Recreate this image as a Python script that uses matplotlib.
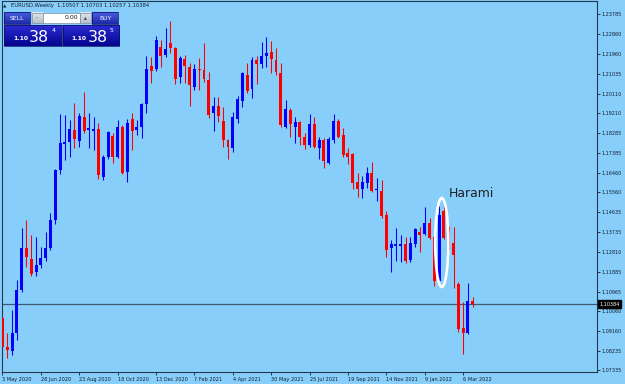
import numpy as np
import matplotlib
matplotlib.use("Agg")
import matplotlib.pyplot as plt
from matplotlib.patches import Ellipse, Rectangle

# ---- data (EURUSD weekly) ----
opens = [1.0975, 1.0838, 1.0820, 1.0905, 1.1103, 1.1297, 1.1245, 1.1187, 1.1219, 1.1251,
         1.1297, 1.1427, 1.1658, 1.1778, 1.1787, 1.1843, 1.1792, 1.1902, 1.1842, 1.1838,
         1.1847, 1.1625, 1.1718, 1.1815, 1.1718, 1.1856, 1.1649, 1.1893, 1.1843, 1.1856,
         1.1963, 1.2138, 1.2125, 1.2226, 1.2189, 1.2245, 1.2221, 1.2087, 1.2171, 1.2134,
         1.2041, 1.2124, 1.2120, 1.2074, 1.1921, 1.1953, 1.1884, 1.1796, 1.1759, 1.1893,
         1.1977, 1.2097, 1.2032, 1.2166, 1.2148, 1.2185, 1.2203, 1.2166, 1.2106, 1.1856,
         1.1935, 1.1856, 1.1880, 1.1810, 1.1773, 1.1870, 1.1759, 1.1796, 1.1690, 1.1796,
         1.1884, 1.1820, 1.1736, 1.1732, 1.1602, 1.1570, 1.1598, 1.1644, 1.1565, 1.1561,
         1.1450, 1.1297, 1.1307, 1.1307, 1.1316, 1.1242, 1.1316, 1.1371, 1.1362, 1.1413,
         1.1348, 1.1145, 1.1468, 1.1339, 1.1320, 1.1131, 1.0928, 1.0905, 1.10507]
highs = [1.0985, 1.0905, 1.1011, 1.1150, 1.1390, 1.1427, 1.1357, 1.1348, 1.1302, 1.1371,
         1.1459, 1.1663, 1.1917, 1.1912, 1.1889, 1.1967, 1.1921, 1.2018, 1.1921, 1.1902,
         1.1875, 1.1727, 1.1838, 1.1829, 1.1889, 1.1866, 1.1893, 1.1921, 1.1889, 1.1967,
         1.2185, 1.2180, 1.2275, 1.2258, 1.2314, 1.2345, 1.2225, 1.2185, 1.2189, 1.2152,
         1.2148, 1.2175, 1.2245, 1.2110, 1.1995, 1.1995, 1.1949, 1.1800, 1.1926, 1.2000,
         1.2110, 1.2152, 1.2180, 1.2185, 1.2249, 1.2272, 1.2254, 1.2221, 1.2152, 1.1981,
         1.1944, 1.1902, 1.1884, 1.1829, 1.1917, 1.1902, 1.1810, 1.1806, 1.1810, 1.1917,
         1.1893, 1.1852, 1.1759, 1.1735, 1.1644, 1.1630, 1.1672, 1.1695, 1.1621, 1.1612,
         1.1468, 1.1334, 1.1390, 1.1357, 1.1348, 1.1348, 1.1390, 1.1395, 1.1487, 1.1436,
         1.1350, 1.1491, 1.1501, 1.1399, 1.1395, 1.1140, 1.1048, 1.1136, 1.10703]
lows = [1.0770, 1.0789, 1.0803, 1.0872, 1.1095, 1.1210, 1.1168, 1.1168, 1.1205, 1.1237,
        1.1290, 1.1408, 1.1639, 1.1704, 1.1718, 1.1759, 1.1764, 1.1829, 1.1759, 1.1750,
        1.1616, 1.1612, 1.1708, 1.1690, 1.1713, 1.1640, 1.1602, 1.1750, 1.1820, 1.1806,
        1.1921, 1.2060, 1.2115, 1.2134, 1.2180, 1.2198, 1.2055, 1.2060, 1.2060, 1.1953,
        1.2027, 1.2027, 1.2064, 1.1898, 1.1838, 1.1880, 1.1764, 1.1708, 1.1741, 1.1875,
        1.1949, 1.2014, 1.1990, 1.2055, 1.2129, 1.2134, 1.2106, 1.2097, 1.1856, 1.1852,
        1.1810, 1.1782, 1.1773, 1.1755, 1.1764, 1.1759, 1.1708, 1.1667, 1.1685, 1.1782,
        1.1806, 1.1718, 1.1686, 1.1570, 1.1533, 1.1528, 1.1575, 1.1556, 1.1515, 1.1436,
        1.1256, 1.1187, 1.1237, 1.1233, 1.1228, 1.1233, 1.1302, 1.1279, 1.1357, 1.1339,
        1.1122, 1.1140, 1.1339, 1.1288, 1.1113, 1.0910, 1.0808, 1.0900, 1.10257]
closes = [1.0838, 1.0826, 1.0905, 1.1103, 1.1297, 1.1256, 1.1177, 1.1219, 1.1251, 1.1297,
          1.1427, 1.1658, 1.1782, 1.1787, 1.1847, 1.1801, 1.1907, 1.1838, 1.1852, 1.1847,
          1.1635, 1.1718, 1.1833, 1.1718, 1.1856, 1.1644, 1.1875, 1.1838, 1.1856, 1.1963,
          1.2124, 1.2115, 1.2258, 1.2185, 1.2217, 1.2221, 1.2078, 1.2175, 1.2138, 1.2050,
          1.2124, 1.2118, 1.2078, 1.1912, 1.1953, 1.1907, 1.1796, 1.1764, 1.1902, 1.1986,
          1.2106, 1.2023, 1.2166, 1.2148, 1.2185, 1.2198, 1.2171, 1.2110, 1.1866, 1.1940,
          1.1870, 1.1880, 1.1810, 1.1773, 1.1870, 1.1764, 1.1796, 1.1699, 1.1801, 1.1884,
          1.1810, 1.1727, 1.1718, 1.1598, 1.1570, 1.1602, 1.1644, 1.1561, 1.1570, 1.1445,
          1.1288, 1.1316, 1.1316, 1.1316, 1.1237, 1.1320, 1.1385, 1.1357, 1.1413, 1.1343,
          1.1145, 1.1450, 1.1343, 1.1325, 1.1265, 1.0923, 1.0905, 1.1053, 1.10384]

price_ticks = [1.23785, 1.22860, 1.21960, 1.21035, 1.20110, 1.19210, 1.18285, 1.17385,
               1.16460, 1.15560, 1.14635, 1.13735, 1.12810, 1.11885, 1.10965, 1.10060,
               1.09160, 1.08235, 1.07335]
date_labels = ["3 May 2020", "28 Jun 2020", "23 Aug 2020", "18 Oct 2020", "13 Dec 2020",
               "7 Feb 2021", "4 Apr 2021", "30 May 2021", "25 Jul 2021", "19 Sep 2021",
               "14 Nov 2021", "9 Jan 2022", "6 Mar 2022"]
date_positions = [0, 8, 16, 24, 32, 40, 48, 56, 64, 72, 80, 88, 96]
current_price = 1.10384
symbol = "EURUSD.Weekly"

BG = "#87CEFA"
UP = "#0000FF"
DN = "#FF0000"
TXT = "#141e2c"

fig = plt.figure(figsize=(6.25, 3.84), dpi=100, facecolor=BG)
ax = fig.add_axes([2 / 625, 12 / 384, 595 / 625, 371 / 384])
ax.set_facecolor(BG)

o = np.array(opens); h = np.array(highs); l = np.array(lows); c = np.array(closes)
idx = np.arange(len(o))
up = c >= o
cols = np.where(up, UP, DN)

ax.vlines(idx, l, h, colors=cols, linewidth=0.75, zorder=2)
bottom = np.minimum(o, c)
height = np.maximum(np.abs(c - o), 0.0005)
ax.bar(idx, height, bottom=bottom, width=0.62, color=cols, edgecolor=cols,
       linewidth=0.0, zorder=3)

ax.axhline(current_price, color="#3f5a70", linewidth=0.9, zorder=1)

ax.set_xlim(-0.1, 123.9)
ax.set_ylim(1.07246, 1.24386)

ax.yaxis.tick_right()
ax.set_yticks(price_ticks)
ax.set_yticklabels([f"{p:.5f}" for p in price_ticks])
ax.tick_params(axis="y", direction="out", length=2, width=0.6, pad=1.2,
               labelsize=3.5, colors=TXT)
ax.set_xticks(date_positions)
ax.set_xticklabels(date_labels, ha="left")
ax.tick_params(axis="x", direction="out", length=2.5, width=0.6, pad=1.0,
               labelsize=3.6, colors=TXT)
for lab in ax.get_xticklabels():
    lab.set_horizontalalignment("left")
for sp in ax.spines.values():
    sp.set_color("#24384a")
    sp.set_linewidth(0.8)

# current price tag
ax.text(1.004, current_price, f"{current_price:.5f}", transform=ax.get_yaxis_transform(),
        ha="left", va="center", fontsize=3.5, color="white", zorder=6,
        bbox=dict(boxstyle="square,pad=0.35", facecolor="black", edgecolor="black"),
        clip_on=False)

# Harami annotation
ax.add_patch(Ellipse((91.55, 1.13229), width=2.75, height=0.0411, fill=False,
                     edgecolor="white", linewidth=1.9, zorder=5))
ax.text(92.9, 1.1533, "Harami", fontsize=8.9, color="#202020", ha="left",
        va="baseline", zorder=6)

# ---- trading panel overlay (pixel coordinates) ----
ov = fig.add_axes([0, 0, 1, 1], zorder=10)
ov.patch.set_alpha(0)
ov.axis("off")


def grad_rect(x0, y0, x1, y1, ctop, cbot, edge="#0a0a60"):
    a = np.array(matplotlib.colors.to_rgb(ctop))
    b = np.array(matplotlib.colors.to_rgb(cbot))
    t = np.linspace(0, 1, 32)[:, None, None]
    img = a * (1 - t) + b * t
    img = np.repeat(img, 2, axis=1)
    ov.imshow(img, extent=(x0, x1, y1, y0), aspect="auto", interpolation="bilinear",
              zorder=1)
    ov.add_patch(Rectangle((x0, y0), x1 - x0, y1 - y0, fill=False, edgecolor=edge,
                           linewidth=0.5, zorder=2))


ov.text(5, 6, "\u25B2", fontsize=3.2, color=TXT, ha="center", va="center")
ov.text(11, 6, f"{symbol}  {opens[-1]:.5f} {highs[-1]:.5f} {lows[-1]:.5f} {closes[-1]:.5f}",
        fontsize=3.8, color=TXT, ha="left", va="center")

grad_rect(4, 12, 30, 24, "#4a5fe0", "#1c2aa8")
ov.text(17, 18.2, "SELL", fontsize=4.4, color="white", ha="center", va="center")
grad_rect(92, 12, 118, 24, "#4a5fe0", "#1c2aa8")
ov.text(105, 18.2, "BUY", fontsize=4.4, color="white", ha="center", va="center")
grad_rect(31.5, 12.5, 43, 23, "#e4e8ee", "#b8c0ca", edge="#8090a0")
ov.text(37.2, 17.5, "-", fontsize=4, color="#303850", ha="center", va="center")
ov.add_patch(Rectangle((43, 12.5), 37, 10.5, facecolor="white", edgecolor="#8090a0",
                       linewidth=0.5, zorder=2))
ov.text(78, 17.8, "0.00", fontsize=4.4, color="#101820", ha="right", va="center", zorder=3)
grad_rect(80, 12.5, 91, 23, "#e4e8ee", "#b8c0ca", edge="#8090a0")
ov.text(85.5, 17.5, "\u25B4", fontsize=4, color="#303850", ha="center", va="center")

for x0, x1, sup in [(4, 61.5, "4"), (62.5, 119, "5")]:
    grad_rect(x0, 25, x1, 46, "#2c2cd4", "#04048e")
    ov.text(x0 + 9, 40.5, "1.10", fontsize=4.4, color="white", ha="left",
            va="baseline", fontweight="bold", zorder=3)
    ov.text(x0 + 25, 41.5, "38", fontsize=11.3, color="white", ha="left",
            va="baseline", zorder=3)
    ov.text(x0 + 47.5, 31.5, sup, fontsize=4.5, color="white", ha="left",
            va="baseline", zorder=3)

ov.set_xlim(0, 625)
ov.set_ylim(384, 0)

fig.savefig("out.png", dpi=100, facecolor=BG)
